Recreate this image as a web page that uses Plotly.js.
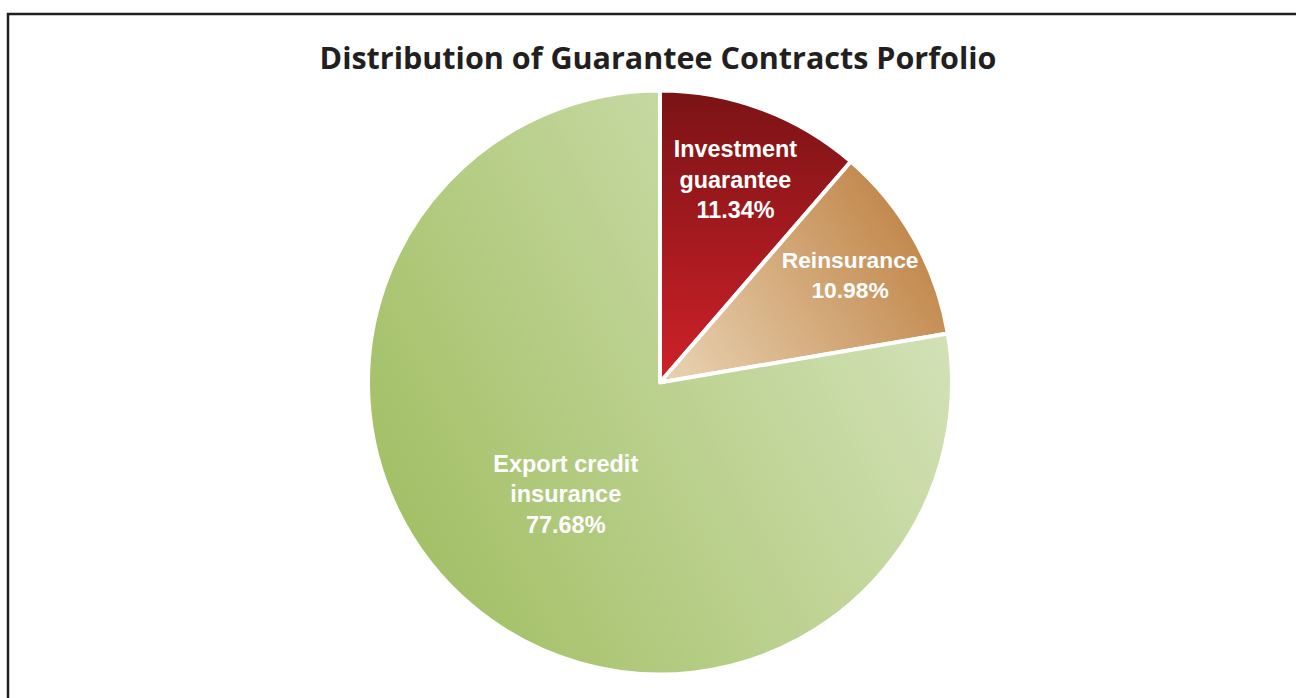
<!DOCTYPE html>
<html>
<head>
<meta charset="utf-8">
<script src="https://cdn.plot.ly/plotly-3.0.1.min.js"></script>
<style>html,body{margin:0;padding:0;background:#fff;}#chart{width:1296px;height:698px;}</style>
</head>
<body>
<div id="chart"></div>
<script>
const categories = ['Investment guarantee', 'Reinsurance', 'Export credit insurance'];
const labelLines = ['Investment<br>guarantee', 'Reinsurance', 'Export credit<br>insurance'];
const shares = [11.34, 10.98, 77.68];
const sliceColors = ['#a51c22', '#cf9f6b', '#bcd391'];

const trace = {
  type: 'pie',
  labels: categories,
  values: shares,
  text: labelLines,
  texttemplate: '%{text}<br>%{value:.2f}%',
  textinfo: 'text',
  textposition: 'inside',
  insidetextorientation: 'horizontal',
  textfont: {family: 'Liberation Sans, Arial, sans-serif', size: 23.5, color: '#ffffff', weight: 'bold'},
  sort: false,
  direction: 'clockwise',
  rotation: 0,
  marker: {colors: sliceColors, line: {color: '#ffffff', width: 4}},
  hoverinfo: 'label+percent',
  showlegend: false,
  domain: {x: [368/1296, 952/1296], y: [(698-675)/698, (698-90)/698]}
};

const layout = {
  width: 1296, height: 698,
  margin: {l: 0, r: 0, t: 0, b: 0},
  paper_bgcolor: '#ffffff',
  title: {
    text: 'Distribution of Guarantee Contracts Porfolio',
    font: {family: 'Open Sans, Noto Sans, sans-serif', size: 30.5, color: '#231f20', weight: 'bold'},
    x: 658/1296, xanchor: 'center', xref: 'paper',
    y: (698-58)/698, yanchor: 'middle', yref: 'paper'
  },
  shapes: [{
    type: 'rect', xref: 'paper', yref: 'paper',
    x0: 8/1296, x1: 1.02, y0: -0.02, y1: (698-14)/698,
    line: {color: '#231f20', width: 2.5}
  }],
  showlegend: false
};

Plotly.newPlot('chart', [trace], layout, {displayModeBar: false, staticPlot: true}).then(function(gd){
  const svg = gd.querySelector('svg.main-svg');
  const ns = 'http://www.w3.org/2000/svg';
  let defs = svg.querySelector('defs');
  if (!defs) { defs = document.createElementNS(ns, 'defs'); svg.insertBefore(defs, svg.firstChild); }
  const grads = [
    {id: 'g0', x1: 0, y1: 0, x2: 0, y2: 1, stops: ['#7a1315', '#cf2129']},
    {id: 'g1', x1: 0, y1: 0.75, x2: 1, y2: 0.25, stops: ['#e6cdab', '#bd7f40']},
    {id: 'g2', x1: 0, y1: 0.75, x2: 1, y2: 0.25, stops: ['#a1be62', '#d6e4bd']}
  ];
  grads.forEach(function(g){
    const lg = document.createElementNS(ns, 'linearGradient');
    lg.setAttribute('id', g.id);
    lg.setAttribute('x1', g.x1); lg.setAttribute('y1', g.y1);
    lg.setAttribute('x2', g.x2); lg.setAttribute('y2', g.y2);
    g.stops.forEach(function(c, i){
      const s = document.createElementNS(ns, 'stop');
      s.setAttribute('offset', i === 0 ? '0' : '1');
      s.setAttribute('stop-color', c);
      lg.appendChild(s);
    });
    defs.appendChild(lg);
  });
  const paths = gd.querySelectorAll('g.slice path.surface');
  paths.forEach(function(p, i){ if (grads[i]) p.style.fill = 'url(#' + grads[i].id + ')'; });
});
</script>
</body>
</html>
